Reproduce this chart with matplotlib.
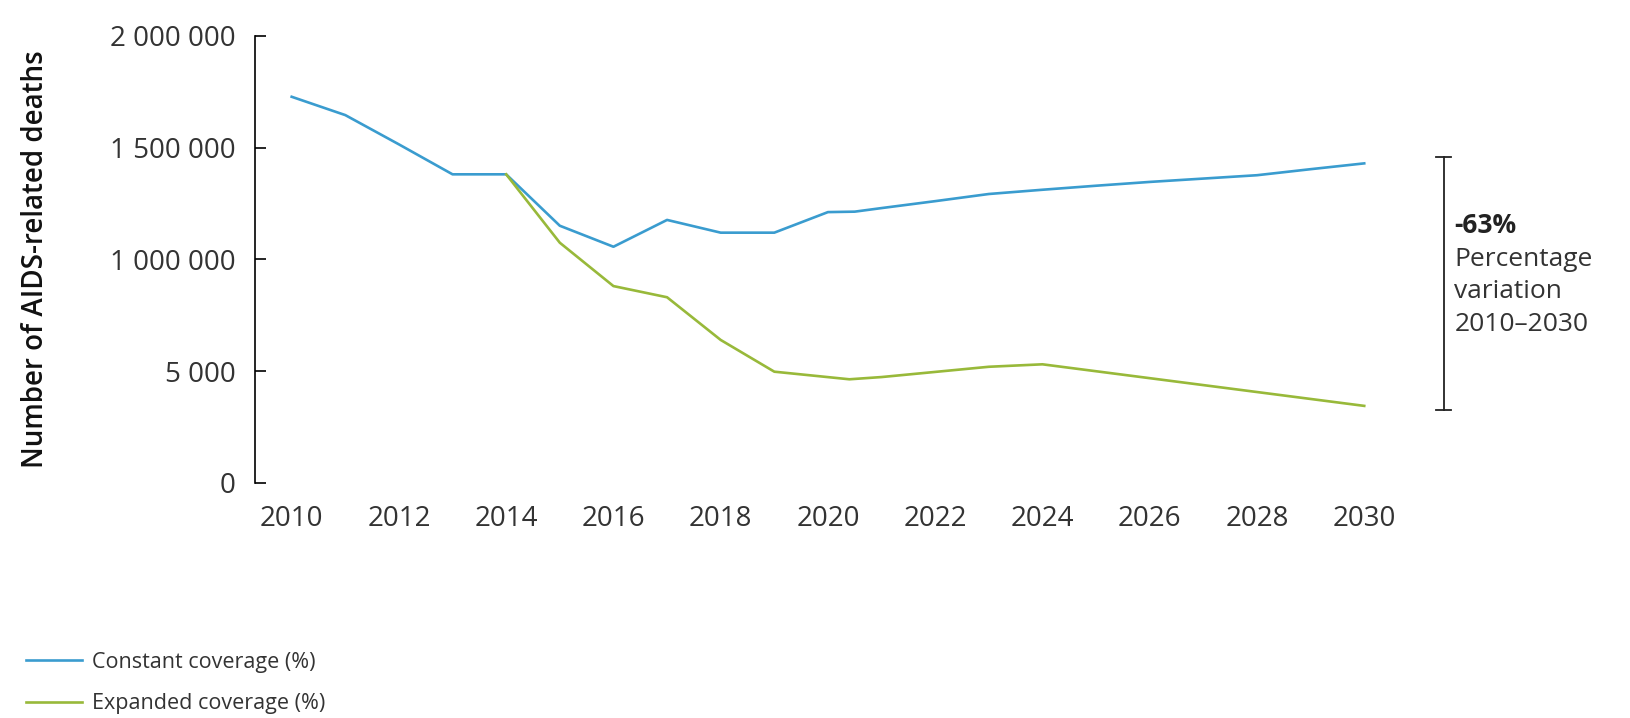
import matplotlib
matplotlib.use("Agg")
import matplotlib.pyplot as plt
from matplotlib.ticker import FixedLocator

plt.rcParams['font.family'] = ['Open Sans', 'DejaVu Sans']

# values
constant_years = [2010, 2011, 2012, 2013, 2014, 2015, 2016, 2017, 2018, 2019,
                  2020, 2020.5, 2021, 2022, 2023, 2024, 2025, 2026, 2027, 2028,
                  2029, 2030]
constant_deaths = [1728000, 1646000, 1515000, 1381000, 1381000, 1151000, 1057000,
                   1177000, 1120000, 1120000, 1212000, 1214000, 1230000, 1261000,
                   1293000, 1312000, 1330000, 1347000, 1362000, 1377000, 1404000,
                   1430000]

expanded_years = [2014, 2015, 2016, 2017, 2018, 2019, 2020.4, 2021, 2022, 2023,
                  2024, 2025, 2026, 2027, 2028, 2029, 2030]
expanded_deaths = [1381000, 1075000, 881000, 831000, 640000, 498000, 464000,
                   474000, 497000, 520000, 531000, 500000, 469000, 438000,
                   407000, 376000, 345000]

y_ticks = [0, 500000, 1000000, 1500000, 2000000]
y_tick_labels = ['0', '5 000', '1 000 000', '1 500 000', '2 000 000']
x_ticks = list(range(2010, 2031, 2))

blue = '#3a9ccf'
green = '#98b93a'
text_col = '#333333'

fig = plt.figure(figsize=(16.3, 7.18), dpi=100)
ax = fig.add_axes([0.1564, 0.3273, 0.6970, 0.6226])

ax.plot(constant_years, constant_deaths, color=blue, lw=1.9, label='Constant coverage (%)')
ax.plot(expanded_years, expanded_deaths, color=green, lw=1.9, label='Expanded coverage (%)')

ax.set_xlim(2009.315, 2030.5)
ax.set_ylim(0, 2000000)

for s in ['top', 'right', 'bottom']:
    ax.spines[s].set_visible(False)
ax.spines['left'].set_linewidth(1.2)
ax.spines['left'].set_color('black')

ax.yaxis.set_major_locator(FixedLocator(y_ticks))
ax.set_yticklabels(y_tick_labels)
ax.set_xticks(x_ticks)
ax.tick_params(axis='y', direction='in', length=8, width=1.2, pad=14,
               labelsize=20, labelcolor=text_col)
ax.tick_params(axis='x', length=0, pad=16, labelsize=20, labelcolor=text_col)

ax.set_ylabel('Number of AIDS-related deaths', fontsize=20, fontweight='semibold',
              color='#111111')
ax.yaxis.set_label_coords(-0.18, 0.50)

# bracket showing the gap at 2030
bx = 2031.48
top = constant_deaths[-1] + 30000
bot = expanded_deaths[-1] - 20000
ax.plot([bx, bx], [bot, top], color='#222222', lw=1.3, clip_on=False)
ax.plot([bx - 0.14, bx + 0.14], [top, top], color='#222222', lw=1.3, clip_on=False)
ax.plot([bx - 0.14, bx + 0.14], [bot, bot], color='#222222', lw=1.3, clip_on=False)

ax.text(bx + 0.2, 1150000, '-63%', fontsize=19, fontweight='bold', color='#222222',
        va='center', ha='left', clip_on=False)
ax.text(bx + 0.2, 1057000, 'Percentage\nvariation\n2010\u20132030', fontsize=19,
        color=text_col, va='top', ha='left', linespacing=1.4, clip_on=False)

fig.legend(loc='lower left', bbox_to_anchor=(0.004, -0.022), frameon=False,
           fontsize=15.5, handlelength=2.6, handletextpad=0.45, labelspacing=0.95,
           labelcolor=text_col)

fig.savefig('out.png', dpi=100, facecolor='white')
